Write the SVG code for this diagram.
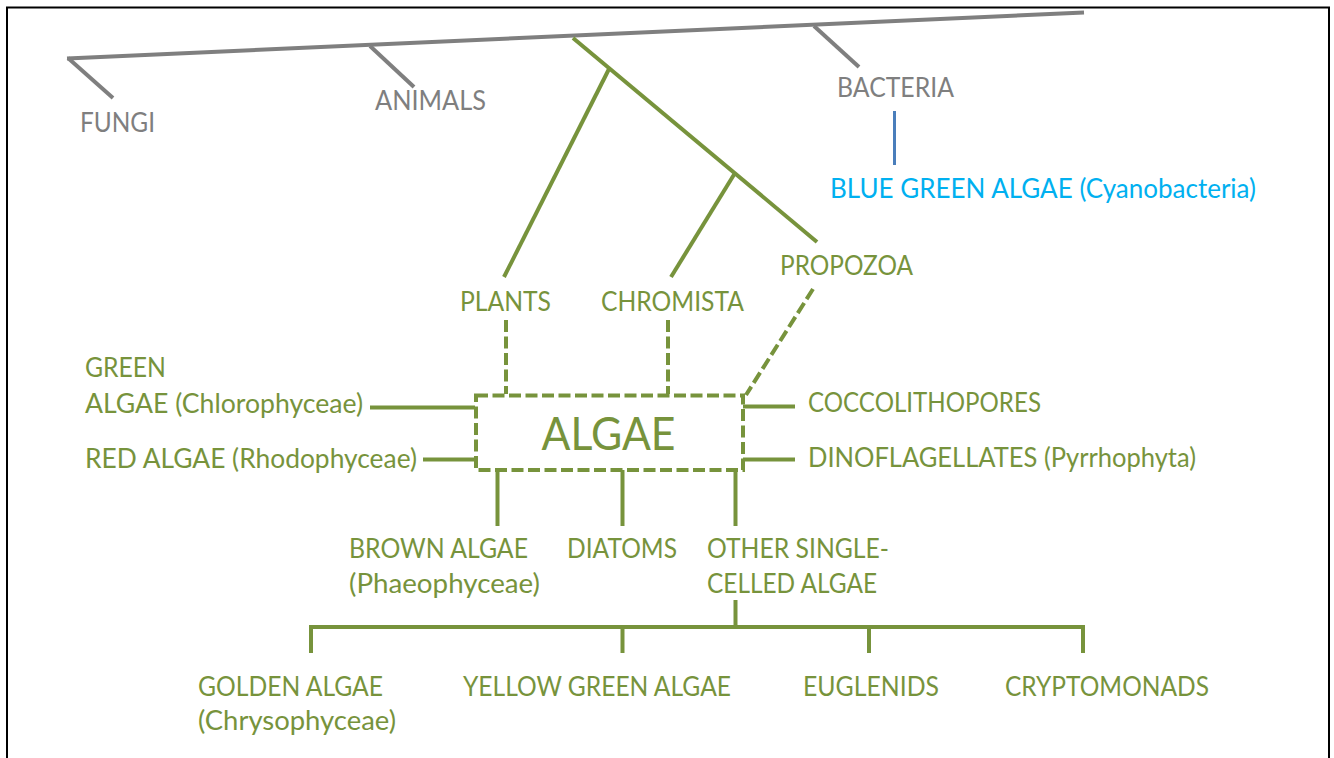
<svg xmlns="http://www.w3.org/2000/svg" width="1334" height="758" viewBox="0 0 1334 758">
<style>
  text { font-family: Lato, "Open Sans", "Noto Sans", sans-serif; font-size: 26px; }
  .g { fill: #77933C; }
  .gr { fill: #7F7F7F; }
  .bl { fill: #00B0F0; }
  .lg { stroke: #7F7F7F; stroke-width: 4; fill: none; stroke-linecap: butt; }
  .lgr { stroke: #77933C; stroke-width: 4; fill: none; }
  .ld { stroke: #77933C; stroke-width: 4; fill: none; stroke-dasharray: 12 4.5; }
  .lb { stroke: #4A7EBB; stroke-width: 3; fill: none; }
  .big { font-size: 46px; }
</style>
<rect x="0" y="0" width="1334" height="758" fill="#FFFFFF"/>
<path d="M7,760 V7.5 H1329 V760" fill="none" stroke="#000000" stroke-width="2"/>

<g id="connectors">
  <!-- gray tree -->
  <line class="lg" x1="67" y1="58.5" x2="1084" y2="12.5"/>
  <line class="lg" x1="68" y1="58" x2="113" y2="98"/>
  <line class="lg" x1="370" y1="46" x2="414" y2="87"/>
  <line class="lg" x1="814" y1="26" x2="859" y2="67"/>
  <line class="lb" x1="894.5" y1="111" x2="894.5" y2="165"/>
  <!-- green tree -->
  <line class="lgr" x1="573" y1="38" x2="817" y2="242"/>
  <line class="lgr" x1="609" y1="69" x2="504" y2="277"/>
  <line class="lgr" x1="735" y1="173" x2="671" y2="277"/>
  <!-- dashed links -->
  <line class="ld" x1="506" y1="320" x2="506" y2="394"/>
  <line class="ld" x1="668" y1="320" x2="668" y2="394"/>
  <line class="ld" x1="813" y1="289" x2="746" y2="395"/>
  <!-- side links -->
  <line class="lgr" x1="370" y1="407.5" x2="475" y2="407.5"/>
  <line class="lgr" x1="423" y1="459.5" x2="475" y2="459.5"/>
  <line class="lgr" x1="743" y1="406.5" x2="795" y2="406.5"/>
  <line class="lgr" x1="743" y1="459.5" x2="795" y2="459.5"/>
  <!-- bottom links -->
  <line class="lgr" x1="497.5" y1="470" x2="497.5" y2="526"/>
  <line class="lgr" x1="622.5" y1="470" x2="622.5" y2="526"/>
  <line class="lgr" x1="735.5" y1="470" x2="735.5" y2="526"/>
  <line class="lgr" x1="735.5" y1="600" x2="735.5" y2="627"/>
  <path class="lgr" d="M311,653 V627 H1083 V653"/>
  <line class="lgr" x1="622.5" y1="627" x2="622.5" y2="653"/>
  <line class="lgr" x1="869" y1="627" x2="869" y2="653"/>
</g>

<g id="fungi"><text class="gr" x="80" y="132" textLength="75" lengthAdjust="spacingAndGlyphs">FUNGI</text></g>
<g id="animals"><text class="gr" x="375" y="109.5" textLength="111" lengthAdjust="spacingAndGlyphs">ANIMALS</text></g>
<g id="bacteria"><text class="gr" x="837" y="96.5" textLength="117" lengthAdjust="spacingAndGlyphs">BACTERIA</text></g>
<g id="blue-green-algae"><text class="bl" x="830" y="198" textLength="426" lengthAdjust="spacingAndGlyphs">BLUE GREEN ALGAE (Cyanobacteria)</text></g>
<g id="plants"><text class="g" x="460" y="310.5" textLength="91" lengthAdjust="spacingAndGlyphs">PLANTS</text></g>
<g id="chromista"><text class="g" x="601" y="310.5" textLength="143" lengthAdjust="spacingAndGlyphs">CHROMISTA</text></g>
<g id="propozoa"><text class="g" x="780" y="275" textLength="133" lengthAdjust="spacingAndGlyphs">PROPOZOA</text></g>

<g id="algae">
  <rect x="476" y="395.5" width="267" height="74.5" fill="none" stroke="#77933C" stroke-width="4" stroke-dasharray="12 4.5"/>
  <text class="g big" x="541.5" y="450" textLength="134" lengthAdjust="spacingAndGlyphs">ALGAE</text>
</g>

<g id="green-algae">
  <text class="g" x="85" y="377" textLength="81" lengthAdjust="spacingAndGlyphs">GREEN</text>
  <text class="g" x="85" y="413" textLength="278" lengthAdjust="spacingAndGlyphs">ALGAE (Chlorophyceae)</text>
</g>
<g id="red-algae"><text class="g" x="85" y="468" textLength="332" lengthAdjust="spacingAndGlyphs">RED ALGAE (Rhodophyceae)</text></g>
<g id="coccolithopores"><text class="g" x="808" y="412" textLength="233" lengthAdjust="spacingAndGlyphs">COCCOLITHOPORES</text></g>
<g id="dinoflagellates"><text class="g" x="808" y="467" textLength="388" lengthAdjust="spacingAndGlyphs">DINOFLAGELLATES (Pyrrhophyta)</text></g>

<g id="brown-algae">
  <text class="g" x="349" y="558" textLength="179" lengthAdjust="spacingAndGlyphs">BROWN ALGAE</text>
  <text class="g" x="349" y="593" textLength="191" lengthAdjust="spacingAndGlyphs">(Phaeophyceae)</text>
</g>
<g id="diatoms"><text class="g" x="567" y="558" textLength="110" lengthAdjust="spacingAndGlyphs">DIATOMS</text></g>
<g id="other-single-celled-algae">
  <text class="g" x="707" y="558" textLength="182" lengthAdjust="spacingAndGlyphs">OTHER SINGLE-</text>
  <text class="g" x="707" y="593" textLength="170" lengthAdjust="spacingAndGlyphs">CELLED ALGAE</text>
</g>

<g id="golden-algae">
  <text class="g" x="198" y="696" textLength="185" lengthAdjust="spacingAndGlyphs">GOLDEN ALGAE</text>
  <text class="g" x="198" y="730" textLength="198" lengthAdjust="spacingAndGlyphs">(Chrysophyceae)</text>
</g>
<g id="yellow-green-algae"><text class="g" x="463" y="696" textLength="268" lengthAdjust="spacingAndGlyphs">YELLOW GREEN ALGAE</text></g>
<g id="euglenids"><text class="g" x="803" y="696" textLength="136" lengthAdjust="spacingAndGlyphs">EUGLENIDS</text></g>
<g id="cryptomonads"><text class="g" x="1005" y="696" textLength="204" lengthAdjust="spacingAndGlyphs">CRYPTOMONADS</text></g>
</svg>
